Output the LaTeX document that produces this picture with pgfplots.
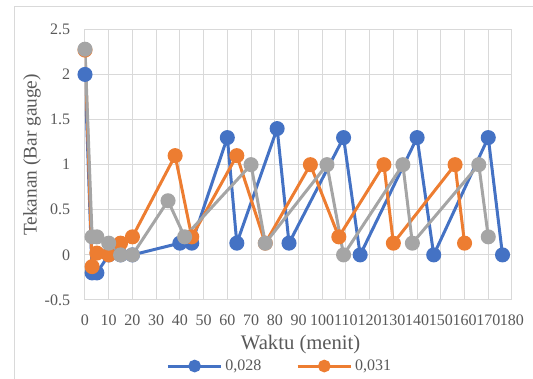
\documentclass[border=0pt]{standalone}
\usepackage{fontspec}
\setmainfont{Liberation Serif}
\usepackage{pgfplots}
\pgfplotsset{compat=1.18}
\definecolor{sA}{HTML}{4472C4}
\definecolor{sB}{HTML}{ED7D31}
\definecolor{sC}{HTML}{A5A5A5}
\definecolor{gridc}{HTML}{D9D9D9}
\definecolor{txt}{HTML}{595959}

\begin{document}
\begin{tikzpicture}
\useasboundingbox (0,0) rectangle (399.75pt,284.25pt);
\clip (0,0) rectangle (399.75pt,284.25pt);
% chart area frame
\draw[gridc, line width=0.75pt] (10.5pt,-10pt) -- (10.5pt,279.4pt) -- (410pt,279.4pt);
\begin{axis}[
  at={(63.75pt,59.25pt)}, anchor=south west,
  scale only axis, width=320.25pt, height=203pt,
  xmin=0, xmax=180, ymin=-0.5, ymax=2.5,
  xtick={0,10,20,30,40,50,60,70,80,90,100,110,120,130,140,150,160,170,180},
  xticklabels={0,10,20,30,40,50,60,70,80,90,100,110,120,130,140,150,160,170,180},
  ytick={-0.5,0,0.5,1,1.5,2,2.5},
  yticklabels={-0.5,0,0.5,1,1.5,2,2.5},
  major tick length=0pt,
  grid=major,
  major grid style={gridc, line width=0.75pt},
  axis line style={gridc, line width=0.75pt},
  tick label style={font=\fontsize{12}{14}\selectfont, text=txt},
  yticklabel style={anchor=east, inner sep=0pt, xshift=-11pt},
  xticklabel style={anchor=north, inner sep=0pt, yshift=-11pt},
  xlabel={Waktu (menit)},
  ylabel={Tekanan (Bar gauge)},
  every axis x label/.style={at={(axis description cs:0.505,-0.163)}, anchor=center,
    font=\fontsize{15.5}{18}\selectfont, text=txt},
  every axis y label/.style={at={(axis description cs:-0.124,0.536)}, rotate=90, anchor=center,
    font=\fontsize{14.5}{18}\selectfont, text=txt},
  legend style={draw=none, fill=none, legend columns=2,
    at={(axis description cs:0.457,-0.244)}, anchor=center,
    font=\fontsize{12}{14}\selectfont, text=txt,
    /tikz/every even column/.append style={column sep=24pt}},
  legend image code/.code={%
    \draw[#1, mark repeat=2, mark phase=2, mark size=3.6pt] plot coordinates {(0pt,0pt) (20pt,0pt) (40pt,0pt)};},
  every axis plot/.append style={line width=2.25pt, mark=*, mark size=4.5pt},
]
\addplot[sA, mark options={fill=sA, draw=sA, solid}] coordinates {
  (0,2.0) (3,-0.2) (5,-0.2) (10,0) (15,0) (20,0) (40,0.13) (45,0.13)
  (60,1.3) (64,0.13) (81,1.4) (86,0.13) (109,1.3) (116,0)
  (140,1.3) (147,0) (170,1.3) (176,0)
};
\addlegendentry{0,028}
\addplot[sB, mark options={fill=sB, draw=sB, solid}] coordinates {
  (0,2.27) (3,-0.13) (5,0.02) (10,0) (15,0.13) (20,0.2) (38,1.1) (45,0.2)
  (64,1.1) (76,0.13) (95,1.0) (107,0.2) (126,1.0) (130,0.13)
  (156,1.0) (160,0.13)
};
\addlegendentry{0,031}
\addplot[sC, mark options={fill=sC, draw=sC, solid}, forget plot] coordinates {
  (0,2.28) (3,0.2) (5,0.2) (10,0.13) (15,0) (20,0) (35,0.6) (42,0.2)
  (70,1.0) (76,0.13) (102,1.0) (109,0) (134,1.0) (138,0.13)
  (166,1.0) (170,0.2)
};
\end{axis}
\end{tikzpicture}
\end{document}
